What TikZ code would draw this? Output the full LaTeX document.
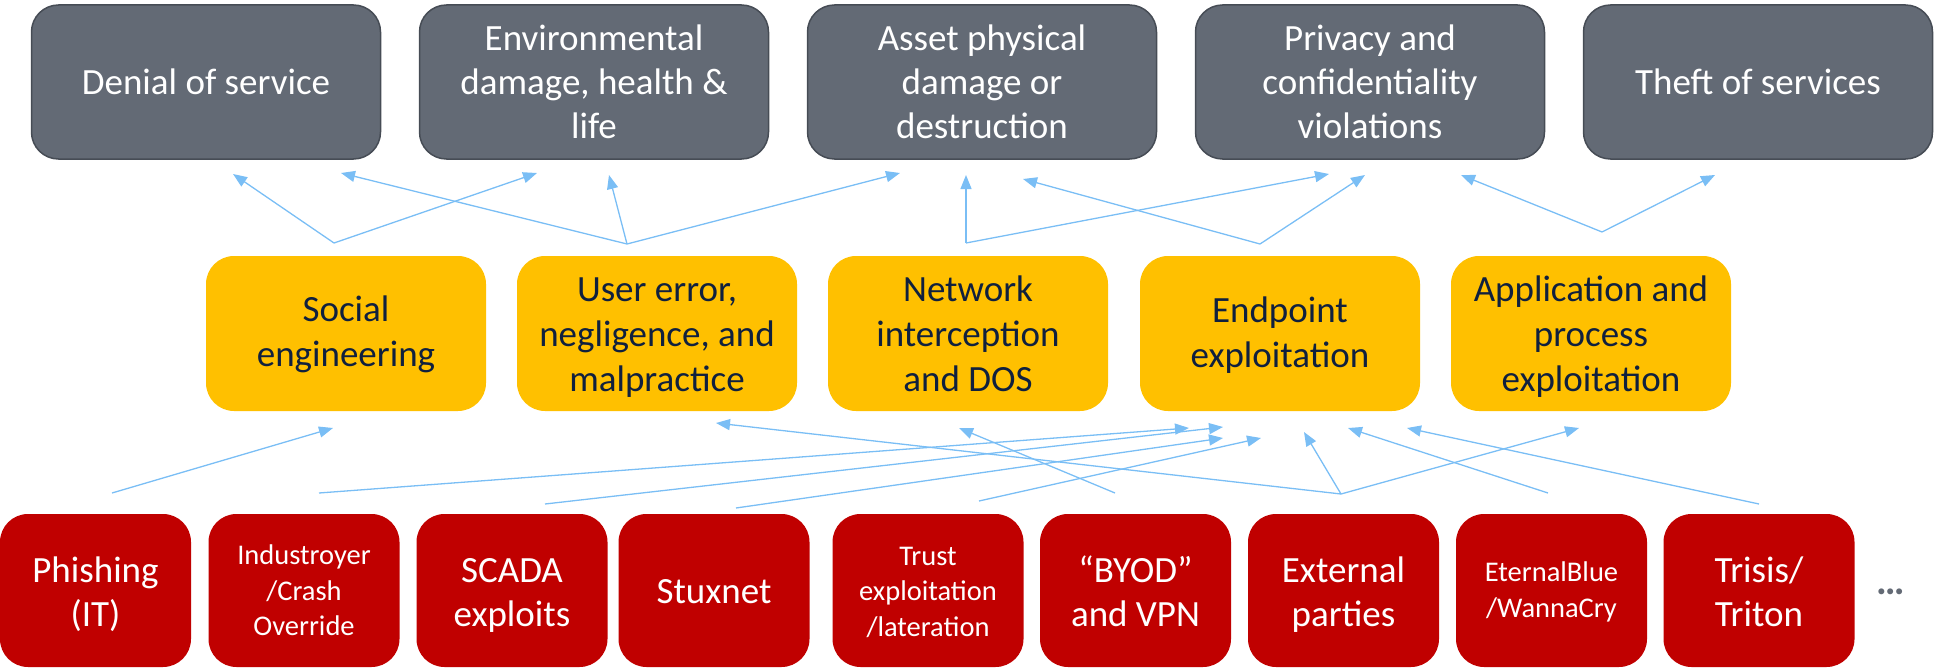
\documentclass[tikz,border=0pt]{standalone}
\usepackage{fontspec}
\setmainfont{Carlito}
\usetikzlibrary{arrows.meta}
\definecolor{impgray}{RGB}{99,106,117}
\definecolor{impborder}{RGB}{70,76,85}
\definecolor{vecyellow}{RGB}{255,192,0}
\definecolor{vecnavy}{RGB}{16,32,62}
\definecolor{srcred}{RGB}{192,0,0}
\definecolor{arrowblue}{RGB}{122,190,245}
% lines stacked and lowered by #1 without changing the box extents
\newcommand\droptext[2]{\raisebox{-#1}[\height][\depth]{\begin{tabular}{@{}c@{}}#2\end{tabular}}}
\begin{document}
\begin{tikzpicture}[x=1pt,y=-1pt,
  bigtext/.style={font=\fontsize{37}{44}\selectfont},
  yeltext/.style={font=\fontsize{37}{45}\selectfont},
  smalltext/.style={font=\fontsize{28.5}{35.5}\selectfont},
  impact/.style={draw=impborder, line width=1.5pt, fill=impgray, rounded corners=27pt,
    minimum width=349pt, minimum height=154pt, inner sep=0pt, align=center, text=white, bigtext},
  vector/.style={fill=vecyellow, rounded corners=28pt, minimum width=280pt, minimum height=155pt,
    inner sep=0pt, text=vecnavy, yeltext},
  source/.style={fill=srcred, rounded corners=28pt, minimum width=191pt, minimum height=153pt,
    inner sep=0pt, text=white, bigtext},
  link/.style={draw=arrowblue, line width=1.3pt, -{Triangle[length=14pt,width=11pt]}}]
\useasboundingbox (0,0) rectangle (1951,669);

% impacts
\node[impact] (dos) at (206,82) {Denial of service};
\node[impact] (env) at (594,82) {Environmental\\damage, health \&\\life};
\node[impact] (asset) at (982,82) {Asset physical\\damage or\\destruction};
\node[impact] (priv) at (1370,82) {Privacy and\\confidentiality\\violations};
\node[impact] (theft) at (1758,82) {Theft of services};

% vectors
\node[vector] (soc) at (346,333.5) {\droptext{1.5pt}{Social\\engineering}};
\node[vector] (usr) at (657,333.5) {\droptext{4pt}{User error,\\negligence, and\\malpractice}};
\node[vector] (net) at (968,333.5) {\droptext{4pt}{Network\\interception\\and DOS}};
\node[vector] (endp) at (1280,333.5) {\droptext{2.5pt}{Endpoint\\exploitation}};
\node[vector] (app) at (1591,333.5) {\droptext{4pt}{Application and\\process\\exploitation}};

% sources
\node[source] (phish) at (95.5,590.5) {\droptext{5pt}{Phishing\\(IT)}};
\node[source, smalltext] (indus) at (304,590.5) {\droptext{2.5pt}{Industroyer\\/Crash\\Override}};
\node[source] (scada) at (512,590.5) {\droptext{5pt}{SCADA\\exploits}};
\node[source] (stux) at (714,590.5) {\droptext{4pt}{Stuxnet}};
\node[source, smalltext] (trust) at (928,590.5) {\droptext{3pt}{Trust\\exploitation\\/lateration}};
\node[source] (byod) at (1135.5,590.5) {\droptext{5pt}{“BYOD”\\and VPN}};
\node[source] (ext) at (1343.5,590.5) {\droptext{5pt}{External\\parties}};
\node[source, smalltext] (eblue) at (1551.5,590.5) {\droptext{2pt}{EternalBlue\\/WannaCry}};
\node[source] (trisis) at (1759,590.5) {\droptext{5pt}{Trisis/\\Triton}};
\node[text=impgray, font=\fontsize{40}{44}\selectfont\bfseries, inner sep=0pt] (more) at (1891,592) {…};

% upper connector ends
\coordinate (soc-o) at (334,243);
\coordinate (usr-o) at (627,244);
\coordinate (net-o) at (966,243);
\coordinate (endp-o) at (1260,244);
\coordinate (app-o) at (1602,232);
\coordinate (dos-a) at (233,174);
\coordinate (dos-b) at (341,173);
\coordinate (env-a) at (537,173);
\coordinate (env-b) at (609,175);
\coordinate (asset-a) at (900,173);
\coordinate (asset-b) at (966,175);
\coordinate (asset-c) at (1023,179);
\coordinate (priv-a) at (1329,174);
\coordinate (priv-b) at (1365,175);
\coordinate (priv-c) at (1461,175);
\coordinate (theft-a) at (1715,175);

\draw[link] (soc-o) -- (dos-a);
\draw[link] (soc-o) -- (env-a);
\draw[link] (usr-o) -- (dos-b);
\draw[link] (usr-o) -- (env-b);
\draw[link] (usr-o) -- (asset-a);
\draw[link] (net-o) -- (asset-b);
\draw[link] (net-o) -- (priv-a);
\draw[link] (endp-o) -- (asset-c);
\draw[link] (endp-o) -- (priv-b);
\draw[link] (app-o) -- (priv-c);
\draw[link] (app-o) -- (theft-a);

% lower connector ends
\coordinate (phish-o) at (112,493);
\coordinate (indus-o) at (319,493);
\coordinate (scada-o) at (545,504);
\coordinate (stux-o) at (736,508);
\coordinate (trust-o) at (979,501);
\coordinate (byod-o) at (1115,493);
\coordinate (ext-o) at (1341,494);
\coordinate (eblue-o) at (1548,493);
\coordinate (trisis-o) at (1759,504);
\coordinate (soc-i) at (333,428);
\coordinate (usr-i) at (716,423);
\coordinate (net-i) at (959,428);
\coordinate (endp-i1) at (1189,428);
\coordinate (endp-i2) at (1223,427);
\coordinate (endp-i3) at (1223,438);
\coordinate (endp-i4) at (1261,438);
\coordinate (endp-i5) at (1304,432);
\coordinate (endp-i6) at (1348,428);
\coordinate (endp-i7) at (1407,428);
\coordinate (app-i) at (1579,428);

\draw[link] (phish-o) -- (soc-i);
\draw[link] (indus-o) -- (endp-i1);
\draw[link] (scada-o) -- (endp-i2);
\draw[link] (stux-o) -- (endp-i3);
\draw[link] (trust-o) -- (endp-i4);
\draw[link] (byod-o) -- (net-i);
\draw[link] (ext-o) -- (usr-i);
\draw[link] (ext-o) -- (endp-i5);
\draw[link] (ext-o) -- (app-i);
\draw[link] (eblue-o) -- (endp-i6);
\draw[link] (trisis-o) -- (endp-i7);
\end{tikzpicture}
\end{document}
